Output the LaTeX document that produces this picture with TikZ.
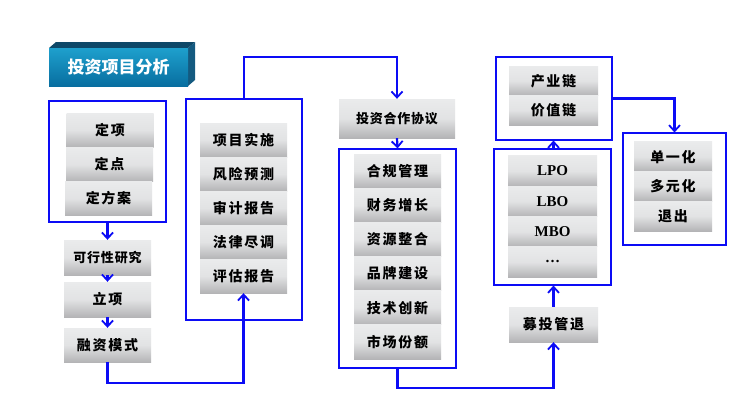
\documentclass[tikz,border=0pt]{standalone}
\usepackage{fontspec}
\setmainfont{Noto Sans CJK SC}
\newfontfamily\itemfont{Noto Sans CJK SC}[LetterSpace=12]
\newfontfamily\smallitemfont{Noto Sans CJK SC}[LetterSpace=6]
\newfontfamily\latinserif{Liberation Serif}
\usetikzlibrary{arrows.meta,calc}
\definecolor{lineblue}{RGB}{12,12,245}
\definecolor{itemtop}{RGB}{234,235,236}
\definecolor{itembot}{RGB}{180,180,182}
\definecolor{titletop}{RGB}{30,160,205}
\definecolor{titlebot}{RGB}{8,110,160}
\definecolor{titletopface}{RGB}{14,72,104}
\definecolor{titleside}{RGB}{20,90,128}
\tikzset{
  frame/.style={draw=lineblue, line width=1.1pt, fill=white, inner sep=0pt},
  item/.style={top color=itemtop, bottom color=itembot, middle color=itemtop!85!itembot, draw=none, inner sep=0pt, text=black,
    font=\itemfont\bfseries\fontsize{14}{14}\selectfont},
  smallitem/.style={item, font=\smallitemfont\bfseries\fontsize{13}{13}\selectfont},
  latinitem/.style={item, font=\latinserif\bfseries\fontsize{15}{15}\selectfont},
  conn/.style={draw=lineblue, line width=2.2pt, -{Straight Barb[length=6pt,width=11pt,line width=1.8pt]}}
}
\begin{document}
\begin{tikzpicture}[x=1pt,y=-1pt]
\useasboundingbox (0,0) rectangle (736,405);
\fill[white] (0,0) rectangle (736,405);

% title 3D box
\fill[titletopface] (49,48) -- (56,42) -- (195,42) -- (188,48) -- cycle;
\fill[titleside] (188,48) -- (195,42) -- (195,80) -- (188,86) -- cycle;
\node[top color=titletop, bottom color=titlebot, minimum width=139pt, minimum height=38pt, inner sep=0pt,
  text=white, font=\bfseries\fontsize{17}{17}\selectfont] (title) at (118.5,67) {投资项目分析};

% column 1
\node[frame, minimum width=117pt, minimum height=121pt] (b1) at (107.5,161.5) {};
\node[item, minimum width=87pt, minimum height=34pt] (d1) at (110,130) {定项};
\node[item, minimum width=87pt, minimum height=34pt] (d2) at (109.5,164.5) {定点};
\node[item, minimum width=87pt, minimum height=34pt] (d3) at (108.5,198.5) {定方案};
\node[smallitem, minimum width=87pt, minimum height=35pt] (kx) at (107.5,257.5) {可行性研究};
\node[item, minimum width=87pt, minimum height=35pt] (lx) at (107.5,299.5) {立项};
\node[item, minimum width=87pt, minimum height=34pt] (rz) at (107.5,345) {融资模式};

% column 2
\node[frame, minimum width=116pt, minimum height=221pt] (b2) at (244,209.5) {};
\node[item, minimum width=87pt, minimum height=34pt] (p1) at (243.5,140) {项目实施};
\node[item, minimum width=87pt, minimum height=34pt] (p2) at (243.5,174) {风险预测};
\node[item, minimum width=87pt, minimum height=34pt] (p3) at (243.5,208) {审计报告};
\node[item, minimum width=87pt, minimum height=34pt] (p4) at (243.5,242) {法律尽调};
\node[item, minimum width=87pt, minimum height=34pt] (p5) at (243.5,276) {评估报告};

% column 3
\node[smallitem, minimum width=116pt, minimum height=39pt] (xy) at (397,118.5) {投资合作协议};
\node[frame, minimum width=117pt, minimum height=219pt] (b3) at (397.5,258.5) {};
\node[item, minimum width=87pt, minimum height=34.2pt] (h1) at (397.5,171.1) {合规管理};
\node[item, minimum width=87pt, minimum height=34.2pt] (h2) at (397.5,205.25) {财务增长};
\node[item, minimum width=87pt, minimum height=34.2pt] (h3) at (397.5,239.4) {资源整合};
\node[item, minimum width=87pt, minimum height=34.2pt] (h4) at (397.5,273.6) {品牌建设};
\node[item, minimum width=87pt, minimum height=34.2pt] (h5) at (397.5,307.75) {技术创新};
\node[item, minimum width=87pt, minimum height=34.2pt] (h6) at (397.5,341.9) {市场份额};

% column 4
\node[item, minimum width=89pt, minimum height=35pt] (mt) at (553.5,324.5) {募投管退};
\node[frame, minimum width=117pt, minimum height=136pt] (b4) at (552.5,217) {};
\node[latinitem, minimum width=89pt, minimum height=30.25pt] (l1) at (552.5,171.1) {LPO};
\node[latinitem, minimum width=89pt, minimum height=30.25pt] (l2) at (552.5,201.4) {LBO};
\node[latinitem, minimum width=89pt, minimum height=30.25pt] (l3) at (552.5,231.6) {MBO};
\node[latinitem, minimum width=89pt, minimum height=30.25pt] (l4) at (552.5,261.9) {\ldots};
\node[frame, minimum width=116pt, minimum height=83pt] (b5) at (554,98.5) {};
\node[item, minimum width=89pt, minimum height=29.5pt] (c1) at (553.5,80.75) {产业链};
\node[item, minimum width=89pt, minimum height=29.5pt] (c2) at (553.5,110.25) {价值链};

% column 5
\node[frame, minimum width=103pt, minimum height=112pt] (b6) at (674.5,189) {};
\node[item, minimum width=78pt, minimum height=29.7pt] (e1) at (673,156.8) {单一化};
\node[item, minimum width=78pt, minimum height=29.7pt] (e2) at (673,186.5) {多元化};
\node[item, minimum width=78pt, minimum height=29.7pt] (e3) at (673,216.2) {退出};

% connectors
\coordinate (k1) at (180,383);
\coordinate (k2) at (320,57);
\coordinate (k3) at (480,388);
\draw[conn] (b1.south) -- (kx.north);
\draw[conn] (kx.south) -- (lx.north);
\draw[conn] (lx.south) -- (rz.north);
\draw[conn] (rz.south) |- (k1) -| (p5.south);
\draw[conn] (b2.north) |- (k2) -| (xy.north);
\draw[conn] (xy.south) -- (b3.north);
\draw[conn] (b3.south) |- (k3) -| (mt.south);
\draw[conn] (mt.north) -- (mt.north |- b4.south);
\draw[conn] ($(b4.north)+(1,0)$) -- ($(b4.north |- b5.south)+(1,0)$);
\draw[conn] (b5.east) -| (b6.north);
\end{tikzpicture}
\end{document}
